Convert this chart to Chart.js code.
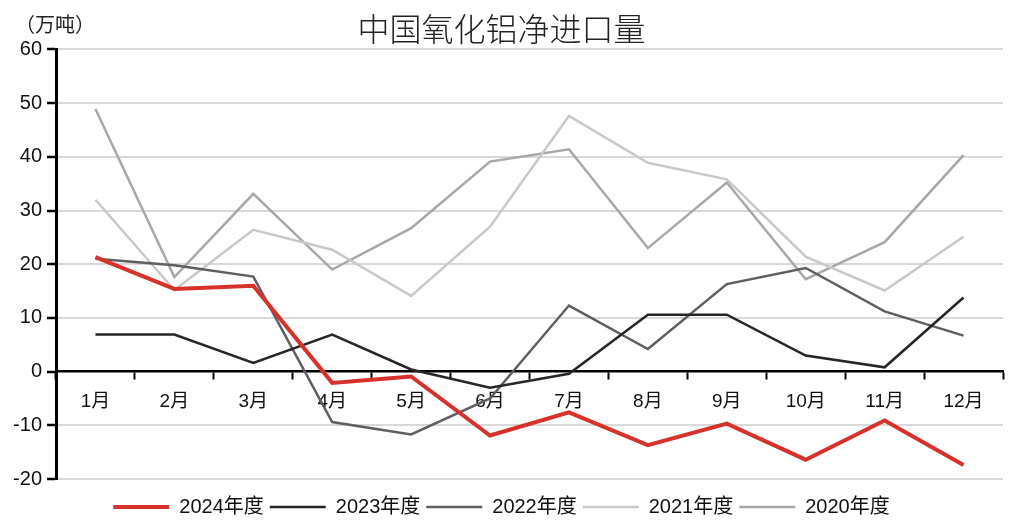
<!DOCTYPE html>
<html>
<head>
<meta charset="utf-8">
<script src="https://cdn.jsdelivr.net/npm/chart.js@4"></script>
<style>
  body { margin: 0; background: #fff; }
  #wrap { position: relative; width: 1012px; height: 520px; }
  #unit { position: absolute; left: 15px; top: 9px; font: 20px "Noto Sans CJK SC", sans-serif; color: #222; }
</style>
</head>
<body>
<div id="wrap">
  <canvas id="canvas" width="1012" height="520"></canvas>
  <div id="unit">（万吨）</div>
</div>
<script>
// 中国氧化铝净进口量 (万吨)
var months = ['1月','2月','3月','4月','5月','6月','7月','8月','9月','10月','11月','12月'];
var y2024 = [21.3, 15.4, 16.0, -2.1, -0.9, -11.9, -7.6, -13.7, -9.7, -16.4, -9.1, -17.4];
var y2023 = [6.9, 6.9, 1.6, 6.9, 0.4, -3.0, -0.4, 10.6, 10.6, 3.0, 0.8, 13.8];
var y2022 = [21.0, 19.8, 17.7, -9.4, -11.7, -5.0, 12.3, 4.2, 16.3, 19.3, 11.2, 6.7];
var y2021 = [32.0, 15.2, 26.4, 22.7, 14.1, 27.0, 47.6, 38.9, 35.8, 21.4, 15.1, 25.1];
var y2020 = [48.9, 17.6, 33.1, 19.0, 26.7, 39.1, 41.4, 23.0, 35.2, 17.2, 24.1, 40.3];

var FONT = '"Liberation Sans", "Noto Sans CJK SC", sans-serif';

function line(label, data, color, width){
  return {
    label: label,
    data: data,
    borderColor: color,
    backgroundColor: color,
    borderWidth: width,
    pointRadius: 0,
    tension: 0,
    fill: false
  };
}

var ctx = document.getElementById('canvas').getContext('2d');
var chart = new Chart(ctx, {
  type: 'line',
  data: {
    labels: months,
    datasets: [
      line('2024年度', y2024, '#d7312c', 4),
      line('2023年度', y2023, '#262626', 2.5),
      line('2022年度', y2022, '#5f5f63', 2.5),
      line('2021年度', y2021, '#c9c9c9', 2.5),
      line('2020年度', y2020, '#a8a8a8', 2.5)
    ]
  },
  options: {
    responsive: false,
    animation: false,
    events: [],
    layout: { padding: { left: 0, right: 9, top: 0, bottom: -7 } },
    plugins: {
      title: {
        display: true,
        text: '中国氧化铝净进口量',
        color: '#222',
        font: { family: '"Noto Sans CJK SC", sans-serif', size: 32, weight: 300 },
        padding: { top: 10, bottom: 1 }
      },
      legend: {
        position: 'bottom',
        // empty legend title only pushes the entries down
        title: { display: true, text: '', font: { size: 12, lineHeight: 1 }, padding: 0 },
        labels: {
          color: '#111',
          font: { family: FONT, size: 20 },
          usePointStyle: true,
          pointStyle: 'line',
          pointStyleWidth: 56,
          boxHeight: 20,
          padding: 6
        }
      },
      tooltip: { enabled: false }
    },
    scales: {
      x: {
        position: { y: 0 },
        offset: true,
        grid: {
          offset: true,
          drawOnChartArea: false,
          drawTicks: true,
          tickLength: 7,
          tickColor: '#000',
          tickWidth: 2
        },
        border: { color: '#000', width: 2.5 },
        ticks: { color: '#111', font: { family: FONT, size: 19 }, padding: 12, maxRotation: 0 }
      },
      y: {
        min: -20,
        max: 60,
        afterFit: function(axis){ axis.width = 56; },
        ticks: { stepSize: 10, color: '#111', font: { family: FONT, size: 20 }, padding: 5 },
        grid: {
          color: function(c){ return c.tick && c.tick.value === 0 ? 'rgba(0,0,0,0)' : '#d9d9d9'; },
          lineWidth: 2,
          tickColor: '#000',
          tickLength: 9,
          tickWidth: 2.5
        },
        border: { color: '#000', width: 3 }
      }
    }
  }
});
</script>
</body>
</html>
